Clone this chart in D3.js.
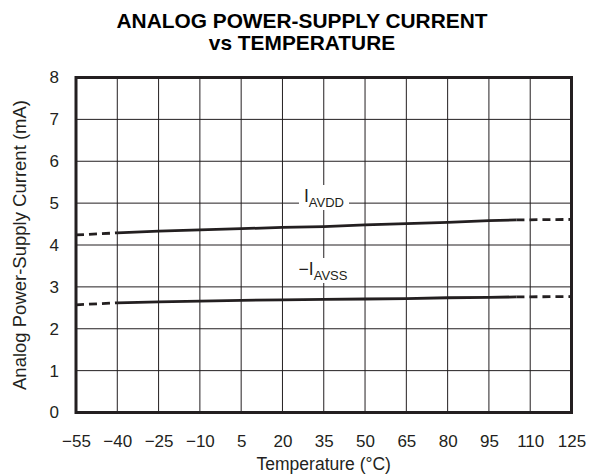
<!DOCTYPE html>
<html>
<head>
<meta charset="utf-8">
<script src="https://cdn.jsdelivr.net/npm/d3@7"></script>
<style>
  html, body { margin: 0; padding: 0; background: #fff; }
  svg { display: block; font-family: "Liberation Sans", Arial, Helvetica, sans-serif; }
</style>
</head>
<body>
<svg id="chart" width="589" height="476"></svg>
<script>
// Temperature sweep (°C) and supply currents (mA)
const temps      = [-55, -40, -25, -10, 5, 20, 35, 50, 65, 80, 95, 105, 125];
const iAVDD      = [4.24, 4.29, 4.33, 4.36, 4.39, 4.42, 4.44, 4.48, 4.51, 4.54, 4.58, 4.60, 4.61];
const iAVSSneg   = [2.57, 2.62, 2.64, 2.66, 2.68, 2.69, 2.70, 2.71, 2.72, 2.74, 2.75, 2.76, 2.77];
// Range drawn solid; outside it the curves are dashed
const solidRange = [-40, 105];

const xTicks = [-55, -40, -25, -10, 5, 20, 35, 50, 65, 80, 95, 110, 125];
const yTicks = [0, 1, 2, 3, 4, 5, 6, 7, 8];

const titleLines = ["ANALOG POWER-SUPPLY CURRENT", "vs TEMPERATURE"];
const xTitle = "Temperature (°C)";
const yTitle = "Analog Power-Supply Current (mA)";

const svg = d3.select("#chart");
const plot = { left: 76, right: 571.5, top: 77.5, bottom: 412.5 };
const ink = "#231f20";

const x = d3.scaleLinear().domain([-55, 125]).range([plot.left, plot.right]);
const y = d3.scaleLinear().domain([0, 8]).range([plot.bottom, plot.top]);

// Title: bold, first line set to a fixed width, second line widened by the same factor
const titleCx = 302, titleWidth = 371;
let stretch = 1;
titleLines.forEach((t, i) => {
  const el = svg.append("text")
    .attr("x", titleCx).attr("y", 28 + i * 22)
    .attr("text-anchor", "middle")
    .attr("font-weight", "bold")
    .attr("font-size", 20.5)
    .attr("fill", "#000")
    .text(t);
  const w = el.node().getComputedTextLength();
  if (i === 0) stretch = titleWidth / w;
  el.attr("textLength", w * stretch).attr("lengthAdjust", "spacingAndGlyphs");
});

// Grid
const grid = svg.append("g");
grid.selectAll("line.v").data(xTicks.slice(1, -1)).join("line")
  .attr("x1", d => x(d)).attr("x2", d => x(d))
  .attr("y1", plot.top).attr("y2", plot.bottom)
  .attr("stroke", ink).attr("stroke-width", 1);
grid.selectAll("line.h").data(yTicks.slice(1, -1)).join("line")
  .attr("y1", d => y(d)).attr("y2", d => y(d))
  .attr("x1", plot.left).attr("x2", plot.right)
  .attr("stroke", ink).attr("stroke-width", 1);

// Axes (labels only; frame drawn separately)
const xAxis = svg.append("g")
  .attr("transform", `translate(0,${plot.bottom})`)
  .call(d3.axisBottom(x).tickValues(xTicks).tickSize(0).tickPadding(22)
    .tickFormat(d => d < 0 ? "\u2212" + Math.abs(d) : String(d)));
xAxis.select(".domain").remove();
xAxis.selectAll("text").attr("font-size", 17).attr("fill", ink)
  .attr("font-family", "Liberation Sans, Arial, sans-serif");

const yAxis = svg.append("g")
  .attr("transform", `translate(${plot.left},0)`)
  .call(d3.axisLeft(y).tickValues(yTicks).tickSize(0).tickPadding(17)
    .tickFormat(d3.format("d")));
yAxis.select(".domain").remove();
yAxis.selectAll("text").attr("font-size", 17).attr("fill", ink)
  .attr("font-family", "Liberation Sans, Arial, sans-serif");

// Axis titles
svg.append("text")
  .attr("x", (plot.left + plot.right) / 2).attr("y", 470)
  .attr("text-anchor", "middle").attr("font-size", 17.5).attr("fill", ink)
  .text(xTitle);
svg.append("text")
  .attr("transform", `translate(26,${(plot.top + plot.bottom) / 2}) rotate(-90)`)
  .attr("text-anchor", "middle").attr("font-size", 18.5).attr("fill", ink)
  .text(yTitle);

// Curves: solid within the measured range, dashed outside
const line = d3.line().x(d => x(d.t)).y(d => y(d.v));
function drawCurve(values) {
  const pts = temps.map((t, i) => ({ t, v: values[i] }));
  const lo = pts.filter(p => p.t <= solidRange[0]);
  const mid = pts.filter(p => p.t >= solidRange[0] && p.t <= solidRange[1]);
  const hi = pts.filter(p => p.t >= solidRange[1]);
  const g = svg.append("g").attr("fill", "none").attr("stroke", ink)
    .attr("stroke-width", 2.8);
  g.append("path").attr("d", line(mid));
  [lo, hi].forEach(seg => {
    g.append("path").attr("d", line(seg)).attr("stroke-dasharray", "8,5");
  });
}
drawCurve(iAVDD);
drawCurve(iAVSSneg);

// Curve labels with white backing that interrupts the grid
function curveLabel(cx, by, prefix, sub) {
  const g = svg.append("g");
  const bg = g.append("rect").attr("fill", "#fff");
  const t = g.append("text").attr("x", cx).attr("y", by)
    .attr("text-anchor", "middle").attr("font-size", 17.5).attr("fill", ink);
  t.append("tspan").text(prefix);
  t.append("tspan").attr("font-size", 13).attr("dy", 5).text(sub);
  const b = t.node().getBBox();
  bg.attr("x", b.x - 5).attr("y", b.y - 1).attr("width", b.width + 10).attr("height", b.height + 1);
}
curveLabel(324, 202, "I", "AVDD");
curveLabel(323, 275, "\u2212I", "AVSS");

// Frame
svg.append("rect")
  .attr("x", plot.left).attr("y", plot.top)
  .attr("width", plot.right - plot.left).attr("height", plot.bottom - plot.top)
  .attr("fill", "none").attr("stroke", ink).attr("stroke-width", 3);
</script>
</body>
</html>
